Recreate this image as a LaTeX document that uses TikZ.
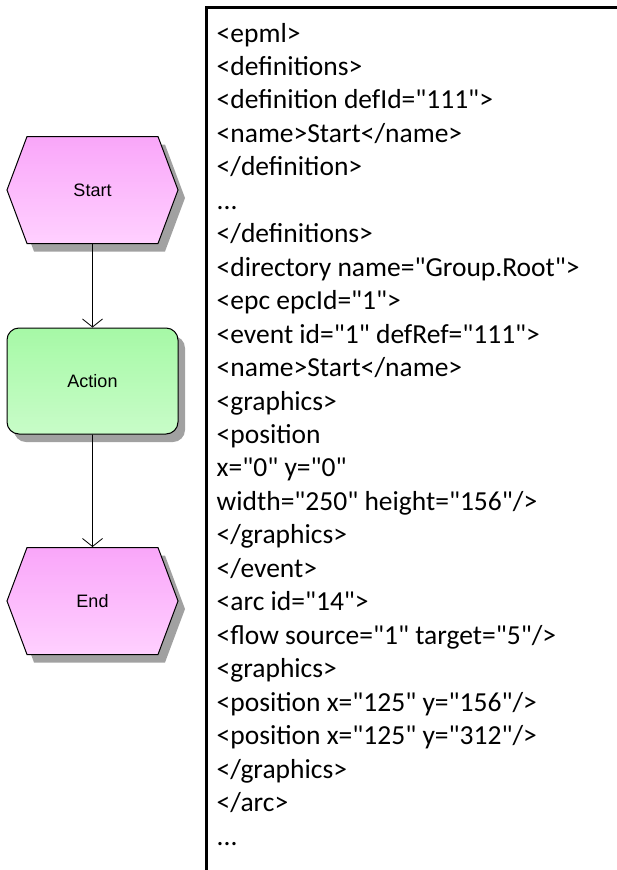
\documentclass[tikz,border=0pt]{standalone}
\usepackage{fontspec}
\newfontfamily\xmlfont{Carlito}
\newfontfamily\shapefont{Liberation Sans}
\usepackage{tikz}
\usetikzlibrary{positioning, arrows.meta, shapes.symbols, shadows}

\definecolor{eventtop}{RGB}{249,166,249}
\definecolor{eventbot}{RGB}{255,208,255}
\definecolor{functop}{RGB}{166,249,166}
\definecolor{funcbot}{RGB}{200,252,200}

\newcommand{\skipdots}{...}

\begin{document}
\begin{tikzpicture}[x=1pt, y=-1pt,
    every node/.style={font=\shapefont\fontsize{18}{20}\selectfont},
    dropshade/.style={drop shadow={shadow xshift=7pt, shadow yshift=-8pt, fill=black!37, opacity=1}},
    event/.style={signal, signal to=east and west, signal pointer angle=139, draw, line width=1pt,
        minimum width=171pt, minimum height=107pt, top color=eventtop, bottom color=eventbot, dropshade},
    func/.style={rectangle, rounded corners=12pt, draw, line width=1pt,
        minimum width=171pt, minimum height=106pt, top color=functop, bottom color=funcbot, dropshade},
    flow/.style={-{Straight Barb[length=8pt, width=20pt]}, line width=0.8pt},
    xmlline/.style={font=\xmlfont\fontsize{27.5}{33}\selectfont, anchor=base west, inner sep=0pt}
]
    \useasboundingbox (0,0) rectangle (616,870);

    % EPC model
    \node[event] (start) at (92.5,190) {Start};
    \node[func] (action) at (92.5,381) {Action};
    \node[event] (end) at (92.5,601) {End};

    \draw[flow] (start) -- (action);
    \draw[flow] (action) -- (end);

    % EPML listing
    \draw[line width=3pt] (206.5,880) -- (206.5,7.5) -- (630,7.5);
    \foreach \t [count=\i] in {
        {<epml>},
        {<definitions>},
        {<definition defId="111">},
        {<name>Start</name>},
        {</definition>},
        {\skipdots},
        {</definitions>},
        {<directory name="Group.Root">},
        {<epc epcId="1">},
        {<event id="1" defRef="111">},
        {<name>Start</name>},
        {<graphics>},
        {<position},
        {x="0" y="0"},
        {width="250" height="156"/>},
        {</graphics>},
        {</event>},
        {<arc id="14">},
        {<flow source="1" target="5"/>},
        {<graphics>},
        {<position x="125" y="156"/>},
        {<position x="125" y="312"/>},
        {</graphics>},
        {</arc>},
        {\skipdots}}
        \node[xmlline] (l\i) at (216.5,{42+33.46*(\i-1)}) {\t};

\end{tikzpicture}
\end{document}
